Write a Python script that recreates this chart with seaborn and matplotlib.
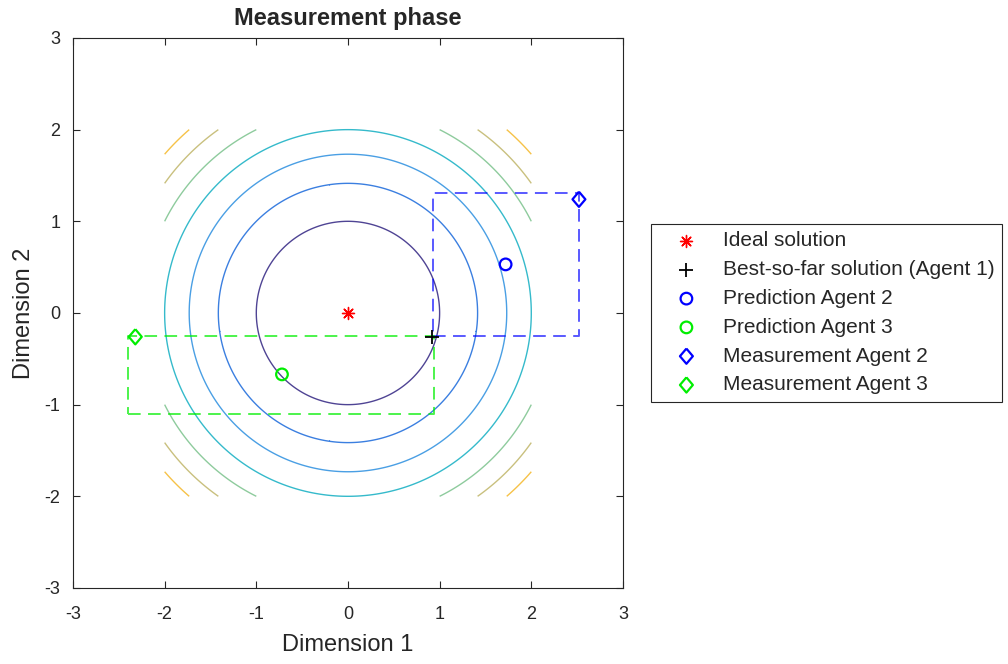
"""
Measurement phase plot: sphere-function contours with agent predictions,
measurements and their search boxes around the best-so-far solution.
"""

import numpy as np
import matplotlib
matplotlib.use("Agg")
import matplotlib.pyplot as plt
import seaborn as sns

# Contour levels of f(x, y) = x^2 + y^2 over [-2, 2]^2
contour_levels = [1, 2, 3, 4, 5, 6, 7]
contour_colors = ['#4f4494', '#3b7fe0', '#4a9fe4', '#35bacb',
                  '#8ecb9d', '#c9c07e', '#f6c248']
domain = [-2, 2]

# Points
ideal_xy = [0.0, 0.0]
best_xy = [0.92, -0.26]
pred2_xy = [1.72, 0.53]
pred3_xy = [-0.72, -0.67]
meas2_xy = [2.52, 1.24]
meas3_xy = [-2.32, -0.26]

# Search boxes (x-range, y-range)
box2_x = [0.93, 2.52]
box2_y = [-0.25, 1.31]
box3_x = [-2.40, 0.94]
box3_y = [-1.10, -0.25]

ticks = [-3, -2, -1, 0, 1, 2, 3]

sns.set_style("ticks")
plt.rcParams['font.family'] = ['Liberation Sans', 'DejaVu Sans']
plt.rcParams['axes.unicode_minus'] = False
plt.rcParams['xtick.direction'] = 'in'
plt.rcParams['ytick.direction'] = 'in'

fig = plt.figure(figsize=(10.08, 6.64), dpi=100)
ax = fig.add_axes([0.0724, 0.1145, 0.5456, 0.8283])

# Contours
g = np.linspace(domain[0], domain[1], 401)
X, Y = np.meshgrid(g, g)
Z = X ** 2 + Y ** 2
ax.contour(X, Y, Z, levels=contour_levels, colors=contour_colors,
           linewidths=1.0, zorder=1)


def box(xr, yr, color, alpha):
    xs = [xr[0], xr[1], xr[1], xr[0], xr[0]]
    ys = [yr[0], yr[0], yr[1], yr[1], yr[0]]
    sns.lineplot(x=xs, y=ys, sort=False, estimator=None, ax=ax,
                 color=color, alpha=alpha, linewidth=1.4,
                 linestyle=(0, (6.5, 3.8)), zorder=2)


box(box2_x, box2_y, '#0000ff', 0.65)
box(box3_x, box3_y, '#00ee00', 0.7)

# Markers
asterisk = (8, 2, 0)
diamond = [(0, 1), (0.85, 0), (0, -1), (-0.85, 0), (0, 1)]

sns.scatterplot(x=[ideal_xy[0]], y=[ideal_xy[1]], marker=asterisk, s=75,
                color='#ff0000', edgecolor='#ff0000', linewidth=1.0,
                label='Ideal solution', ax=ax, zorder=4)
sns.scatterplot(x=[best_xy[0]], y=[best_xy[1]], marker='+', s=110,
                color='black', edgecolor='black', linewidth=1.3,
                label='Best-so-far solution (Agent 1)', ax=ax, zorder=4)
sns.scatterplot(x=[pred2_xy[0]], y=[pred2_xy[1]], marker='o', s=70,
                facecolors='none', edgecolor='#0000ff', linewidth=1.6,
                label='Prediction Agent 2', ax=ax, zorder=4)
sns.scatterplot(x=[pred3_xy[0]], y=[pred3_xy[1]], marker='o', s=70,
                facecolors='none', edgecolor='#00ee00', linewidth=1.6,
                label='Prediction Agent 3', ax=ax, zorder=4)
sns.scatterplot(x=[meas2_xy[0]], y=[meas2_xy[1]], marker=diamond, s=120,
                facecolors='none', edgecolor='#0000ff', linewidth=1.6,
                label='Measurement Agent 2', ax=ax, zorder=4)
sns.scatterplot(x=[meas3_xy[0]], y=[meas3_xy[1]], marker=diamond, s=120,
                facecolors='none', edgecolor='#00ee00', linewidth=1.6,
                label='Measurement Agent 3', ax=ax, zorder=4)

ax.set_xlim(-3, 3)
ax.set_ylim(-3, 3)
ax.set_xticks(ticks)
ax.set_yticks(ticks)
ax.tick_params(labelsize=13, length=5, width=0.8, colors='#262626',
               top=True, right=True)
ax.tick_params(axis='x', pad=13)
ax.tick_params(axis='y', pad=9)
for sp in ax.spines.values():
    sp.set_visible(True)
    sp.set_color('#262626')
    sp.set_linewidth(0.8)

ax.set_xlabel('Dimension 1', fontsize=17, color='#262626', labelpad=8)
ax.set_ylabel('Dimension 2', fontsize=17, color='#262626', labelpad=7)
ax.set_title('Measurement phase', fontsize=17, fontweight='bold', pad=9)

leg = ax.legend(loc='center left', bbox_to_anchor=(1.051, 0.5),
                borderaxespad=0, fontsize=15, frameon=True, fancybox=False,
                framealpha=1, edgecolor='#262626', handlelength=2.7,
                handletextpad=0.42, labelspacing=0.47, borderpad=0.35)
leg.get_frame().set_linewidth(0.8)

fig.savefig('out.png', dpi=100)
